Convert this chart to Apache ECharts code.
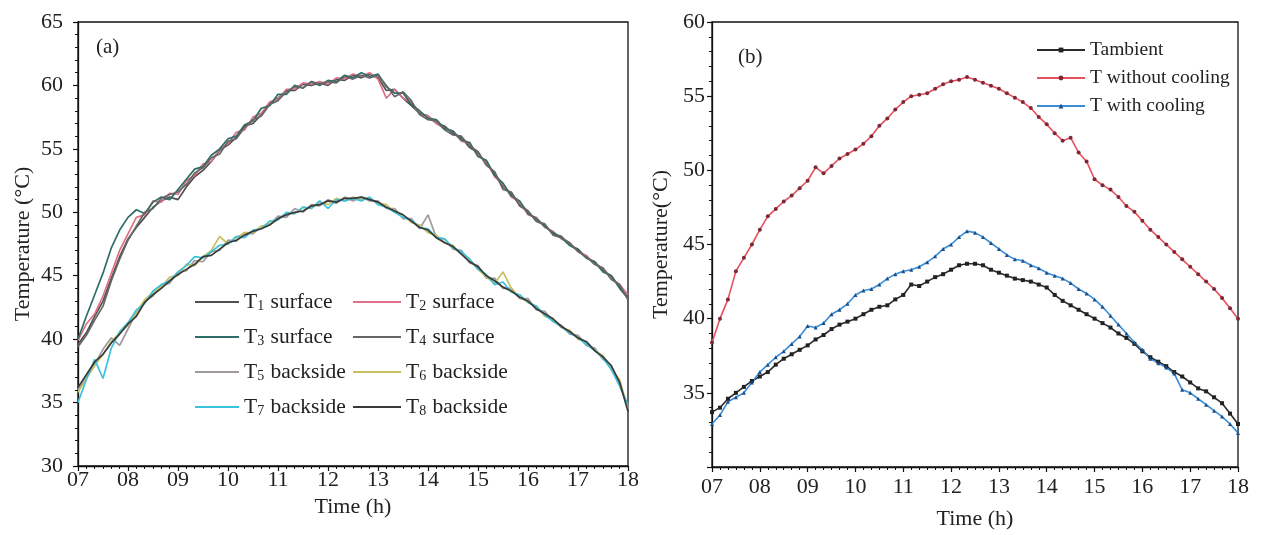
<!DOCTYPE html>
<html><head><meta charset="utf-8">
<script src="https://cdn.jsdelivr.net/npm/echarts@6/dist/echarts.min.js"></script>
<style>html,body{margin:0;padding:0;background:#fff}#c{width:1261px;height:535px}</style>
</head><body><div id="c"></div>
<script>
// ---------- Panel (a): 10-minute readings, 07:00 -> 18:00 ----------
const T1 = [39.6,40.5,41.8,43.0,44.8,46.5,47.9,48.8,49.6,50.4,50.9,51.2,51.0,52.0,52.8,53.3,54.0,54.9,55.3,55.9,56.8,57.0,57.7,58.6,59.0,59.6,59.6,60.1,60.0,60.2,60.0,60.5,60.4,60.8,60.6,60.9,60.6,59.6,59.7,59.0,58.4,57.8,57.6,57.0,56.8,56.2,55.9,55.1,54.7,53.8,53.1,52.0,51.5,50.6,50.1,49.3,49.0,48.3,48.1,47.4,47.1,46.4,46.1,45.4,45.0,44.1,43.3];
const T2 = [39.9,41.2,42.0,43.4,45.2,47.0,48.3,49.6,49.8,50.9,50.8,51.5,51.4,52.5,52.9,53.8,54.0,55.0,55.4,56.3,56.5,57.5,57.8,58.7,58.9,59.7,59.7,60.2,60.1,60.3,60.1,60.6,60.5,60.9,60.7,61.0,60.5,59.0,59.7,59.0,58.7,57.7,57.6,57.0,56.6,56.4,55.6,55.4,54.5,54.0,52.8,52.2,51.2,50.8,49.8,49.6,48.8,48.5,47.9,47.6,46.9,46.6,45.9,45.6,44.8,44.3,43.5];
const T3 = [40.0,41.8,43.5,45.2,47.2,48.6,49.6,50.2,49.9,50.8,51.2,51.0,51.8,52.6,53.4,53.6,54.5,55.0,55.8,56.0,56.9,57.2,58.2,58.4,59.3,59.3,60.0,59.8,60.3,60.0,60.4,60.3,60.8,60.6,61.0,60.7,60.9,59.9,59.4,59.4,58.5,58.0,57.4,57.3,56.6,56.4,55.7,55.5,54.4,54.1,52.9,52.3,51.3,50.9,49.9,49.5,48.9,48.4,48.0,47.4,47.0,46.4,46.1,45.3,45.0,44.0,43.2];
const T4 = [39.4,40.3,41.5,42.6,44.6,46.3,47.8,48.9,50.0,50.3,51.1,51.4,51.6,52.2,53.1,53.5,54.3,54.6,55.6,55.8,56.7,57.3,57.6,58.5,58.8,59.5,59.9,59.8,60.3,60.1,60.3,60.2,60.7,60.5,60.8,60.6,60.8,60.0,59.1,59.5,58.8,57.7,57.3,57.2,56.5,56.1,56.0,55.2,54.8,53.7,53.2,51.8,51.6,50.5,50.1,49.3,49.1,48.2,48.0,47.6,46.9,46.5,45.9,45.6,44.7,44.3,43.1];
const T5 = [36.0,37.0,38.0,39.2,40.1,39.5,40.8,42.1,43.0,43.4,44.3,44.4,45.3,45.4,46.2,46.1,46.9,47.0,47.8,47.7,48.4,48.3,48.9,49.0,49.7,49.6,50.3,50.0,50.6,50.5,51.0,50.7,51.2,50.9,51.2,50.9,50.9,50.3,50.3,49.5,49.5,48.7,49.8,48.0,47.9,47.1,47.0,46.0,45.8,44.8,44.8,44.0,44.0,43.2,43.2,42.3,42.2,41.4,41.1,40.4,40.3,39.5,39.3,38.4,37.9,36.4,34.6];
const T6 = [35.8,36.9,37.9,38.8,39.8,40.5,41.1,42.1,43.1,43.7,44.1,44.9,45.0,45.9,45.8,46.5,47.0,48.1,47.5,48.0,48.4,48.4,48.9,49.1,49.4,49.9,49.9,50.4,50.3,50.8,50.6,51.1,50.9,51.2,51.0,51.1,50.7,50.6,50.0,49.8,49.2,49.0,48.4,48.2,47.6,47.4,46.7,46.3,45.5,44.9,44.4,45.3,44.0,43.3,42.9,42.6,41.8,41.6,40.9,40.7,40.0,39.8,39.1,38.7,37.6,36.8,34.5];
const T7 = [35.0,36.8,38.4,36.9,39.3,40.6,41.3,42.3,42.8,43.8,44.3,44.6,45.3,45.8,46.5,46.4,46.9,47.4,47.5,48.1,48.0,48.6,48.7,49.3,49.4,50.0,49.9,50.4,50.3,50.9,50.3,51.0,50.9,51.1,50.9,51.2,50.6,50.4,50.0,49.6,49.4,48.8,48.7,48.0,47.9,47.2,46.9,46.3,45.5,45.1,44.3,44.5,43.7,43.5,42.9,42.6,41.9,41.4,41.0,40.5,40.1,39.6,39.1,38.5,37.6,36.3,34.8];
const T8 = [36.2,37.2,38.2,38.8,39.7,40.4,41.2,41.8,42.9,43.5,44.0,44.6,45.1,45.5,45.9,46.5,46.6,47.1,47.6,47.8,48.2,48.5,48.7,49.0,49.5,49.8,50.0,50.1,50.5,50.6,50.9,50.8,51.1,51.1,51.2,51.0,50.8,50.4,50.1,49.8,49.3,48.8,48.6,48.0,47.6,47.3,46.7,46.1,45.7,45.0,44.6,44.1,43.8,43.3,43.0,42.4,42.0,41.6,41.0,40.6,40.1,39.8,39.1,38.6,37.9,36.6,34.3];

// ---------- Panel (b) ----------
const Tambient = [33.7,34.0,34.6,35.0,35.4,35.8,36.1,36.4,36.9,37.3,37.6,37.9,38.2,38.6,38.9,39.3,39.6,39.8,40.0,40.3,40.6,40.8,40.9,41.3,41.6,42.3,42.2,42.5,42.8,43.0,43.3,43.6,43.7,43.7,43.6,43.3,43.1,42.9,42.7,42.6,42.5,42.3,42.1,41.6,41.2,40.9,40.6,40.3,40.0,39.7,39.4,39.0,38.7,38.3,37.8,37.4,37.1,36.8,36.4,36.1,35.7,35.3,35.1,34.7,34.3,33.6,32.9];
const Tnocool = [38.4,40.0,41.3,43.2,44.1,45.0,46.0,46.9,47.4,47.9,48.3,48.8,49.3,50.2,49.8,50.3,50.8,51.1,51.4,51.8,52.3,53.0,53.5,54.1,54.6,55.0,55.1,55.2,55.5,55.8,56.0,56.1,56.3,56.1,55.9,55.7,55.5,55.2,54.9,54.6,54.2,53.6,53.1,52.5,52.0,52.2,51.2,50.6,49.4,49.0,48.7,48.2,47.6,47.2,46.6,46.0,45.5,45.0,44.5,44.0,43.5,43.0,42.5,42.0,41.4,40.7,40.0];
const Tcool = [32.9,33.5,34.4,34.7,35.0,35.7,36.4,36.9,37.4,37.8,38.3,38.8,39.5,39.4,39.7,40.3,40.6,41.0,41.6,41.9,42.0,42.3,42.7,43.0,43.2,43.3,43.5,43.8,44.2,44.7,45.0,45.5,45.9,45.8,45.5,45.1,44.7,44.3,44.0,43.9,43.6,43.4,43.1,42.9,42.7,42.4,42.0,41.7,41.3,40.8,40.2,39.6,39.0,38.4,37.9,37.3,37.0,36.7,36.3,35.2,35.0,34.6,34.2,33.8,33.4,32.9,32.3];

// tick labels
const xTickLabels = ['07','08','09','10','11','12','13','14','15','16','17','18'];
const yTicksA = [30,35,40,45,50,55,60,65];
const yTicksB = [35,40,45,50,55,60];

const seriesA = [
  {name:'T1 surface', data:T1, color:'#505050'},
  {name:'T2 surface', data:T2, color:'#e07085'},
  {name:'T3 surface', data:T3, color:'#2d6e68'},
  {name:'T4 surface', data:T4, color:'#666666'},
  {name:'T5 backside', data:T5, color:'#a09aa0'},
  {name:'T6 backside', data:T6, color:'#c8c060'},
  {name:'T7 backside', data:T7, color:'#3cc2dc'},
  {name:'T8 backside', data:T8, color:'#3a3a3a'}
];
const seriesB = [
  {name:'Tambient', data:Tambient, line:'#2a2a2a', dot:'#222222', symbol:'rect'},
  {name:'T without cooling', data:Tnocool, line:'#e8505c', dot:'#7a2a36', symbol:'circle'},
  {name:'T with cooling', data:Tcool, line:'#3a8ed8', dot:'#1d4f88', symbol:'triangle'}
];

const FONT = 'Liberation Serif';
const times = T1.map((_, i) => 7 + i * 10 / 60);
const pairs = arr => arr.map((v, i) => [times[i], v]);

function xAxisCfg(gridIndex, labelMargin, nameGap) {
  return {
    type:'value', gridIndex, min:7, max:18, interval:1,
    name:'Time (h)', nameLocation:'middle', nameGap,
    nameTextStyle:{fontFamily:FONT, fontSize:22, color:'#222'},
    axisLine:{show:true, onZero:false, lineStyle:{color:'#111', width:1.3}},
    axisTick:{show:true, inside:false, length:5, lineStyle:{color:'#111', width:1.2}},
    minorTick:{show:true, splitNumber:6, length:3, lineStyle:{color:'#111', width:1}},
    splitLine:{show:false},
    axisLabel:{fontFamily:FONT, fontSize:22, color:'#222', margin:labelMargin,
      formatter: v => xTickLabels[Math.round(v) - 7]}
  };
}
function yAxisCfg(gridIndex, min, max, name, ticks, nameGap, labelMargin) {
  return {
    type:'value', gridIndex, min, max, interval:5,
    name, nameLocation:'middle', nameGap,
    nameTextStyle:{fontFamily:FONT, fontSize:22, color:'#222'},
    axisLine:{show:true, onZero:false, lineStyle:{color:'#111', width:1.3}},
    axisTick:{show:true, inside:false, length:5, lineStyle:{color:'#111', width:1.2}},
    minorTick:{show:true, splitNumber:5, length:3, lineStyle:{color:'#111', width:1}},
    splitLine:{show:false},
    axisLabel:{fontFamily:FONT, fontSize:22, color:'#222', margin:labelMargin,
      formatter: v => ticks.indexOf(v) >= 0 ? String(v) : ''}
  };
}

const legendText = {fontFamily:FONT, fontSize:21.5, color:'#222',
  rich:{s:{fontFamily:FONT, fontSize:14, color:'#222', padding:[8,1,0,0]}}};
const subFmt = n => n.replace(/^T(\d)/, 'T{s|$1}');

const option = {
  backgroundColor:'#fff',
  animation:false,
  grid:[
    {left:78, top:22, width:550, height:444, show:true, borderColor:'#111', borderWidth:1.3, backgroundColor:'transparent'},
    {left:712, top:22, width:526, height:456, show:true, borderColor:'#111', borderWidth:1.3, backgroundColor:'transparent'}
  ],
  xAxis:[xAxisCfg(0, 3, 15), xAxisCfg(1, 9, 41)],
  yAxis:[
    yAxisCfg(0, 30, 65, 'Temperature (°C)', yTicksA, 44, 15),
    yAxisCfg(1, 30, 60, 'Temperature(°C)', yTicksB, 40, 7)
  ],
  legend:[
    {left:190, top:286, orient:'vertical', itemGap:13, itemWidth:44, itemHeight:2, icon:'rect',
     data:['T1 surface','T3 surface','T5 backside','T7 backside'], formatter:subFmt, textStyle:legendText, selectedMode:false},
    {left:348, top:286, orient:'vertical', itemGap:13, itemWidth:48, itemHeight:2, icon:'rect',
     data:['T2 surface','T4 surface','T6 backside','T8 backside'], formatter:subFmt, textStyle:legendText, selectedMode:false},
    {left:1031, top:35, orient:'vertical', itemGap:8, itemWidth:48, itemHeight:6,
     data:seriesB.map(s => s.name), textStyle:{fontFamily:FONT, fontSize:19.5, color:'#222'}, selectedMode:false}
  ],
  graphic:[
    {type:'text', left:96, top:37, style:{text:'(a)', fontFamily:FONT, fontSize:21, fill:'#222'}},
    {type:'text', left:738, top:47, style:{text:'(b)', fontFamily:FONT, fontSize:21, fill:'#222'}}
  ],
  series:[
    ...seriesA.map(s => ({
      type:'line', name:s.name, xAxisIndex:0, yAxisIndex:0, data:pairs(s.data),
      symbol:'none', color:s.color, lineStyle:{color:s.color, width:1.7}, z:2
    })),
    ...seriesB.map(s => ({
      type:'line', name:s.name, xAxisIndex:1, yAxisIndex:1, data:pairs(s.data),
      symbol:s.symbol, symbolSize:4, showSymbol:true, color:s.line,
      itemStyle:{color:s.dot}, lineStyle:{color:s.line, width:1.6}, z:2
    }))
  ]
};
echarts.init(document.getElementById('c'), null, {renderer:'canvas'}).setOption(option);
</script>
</body></html>
